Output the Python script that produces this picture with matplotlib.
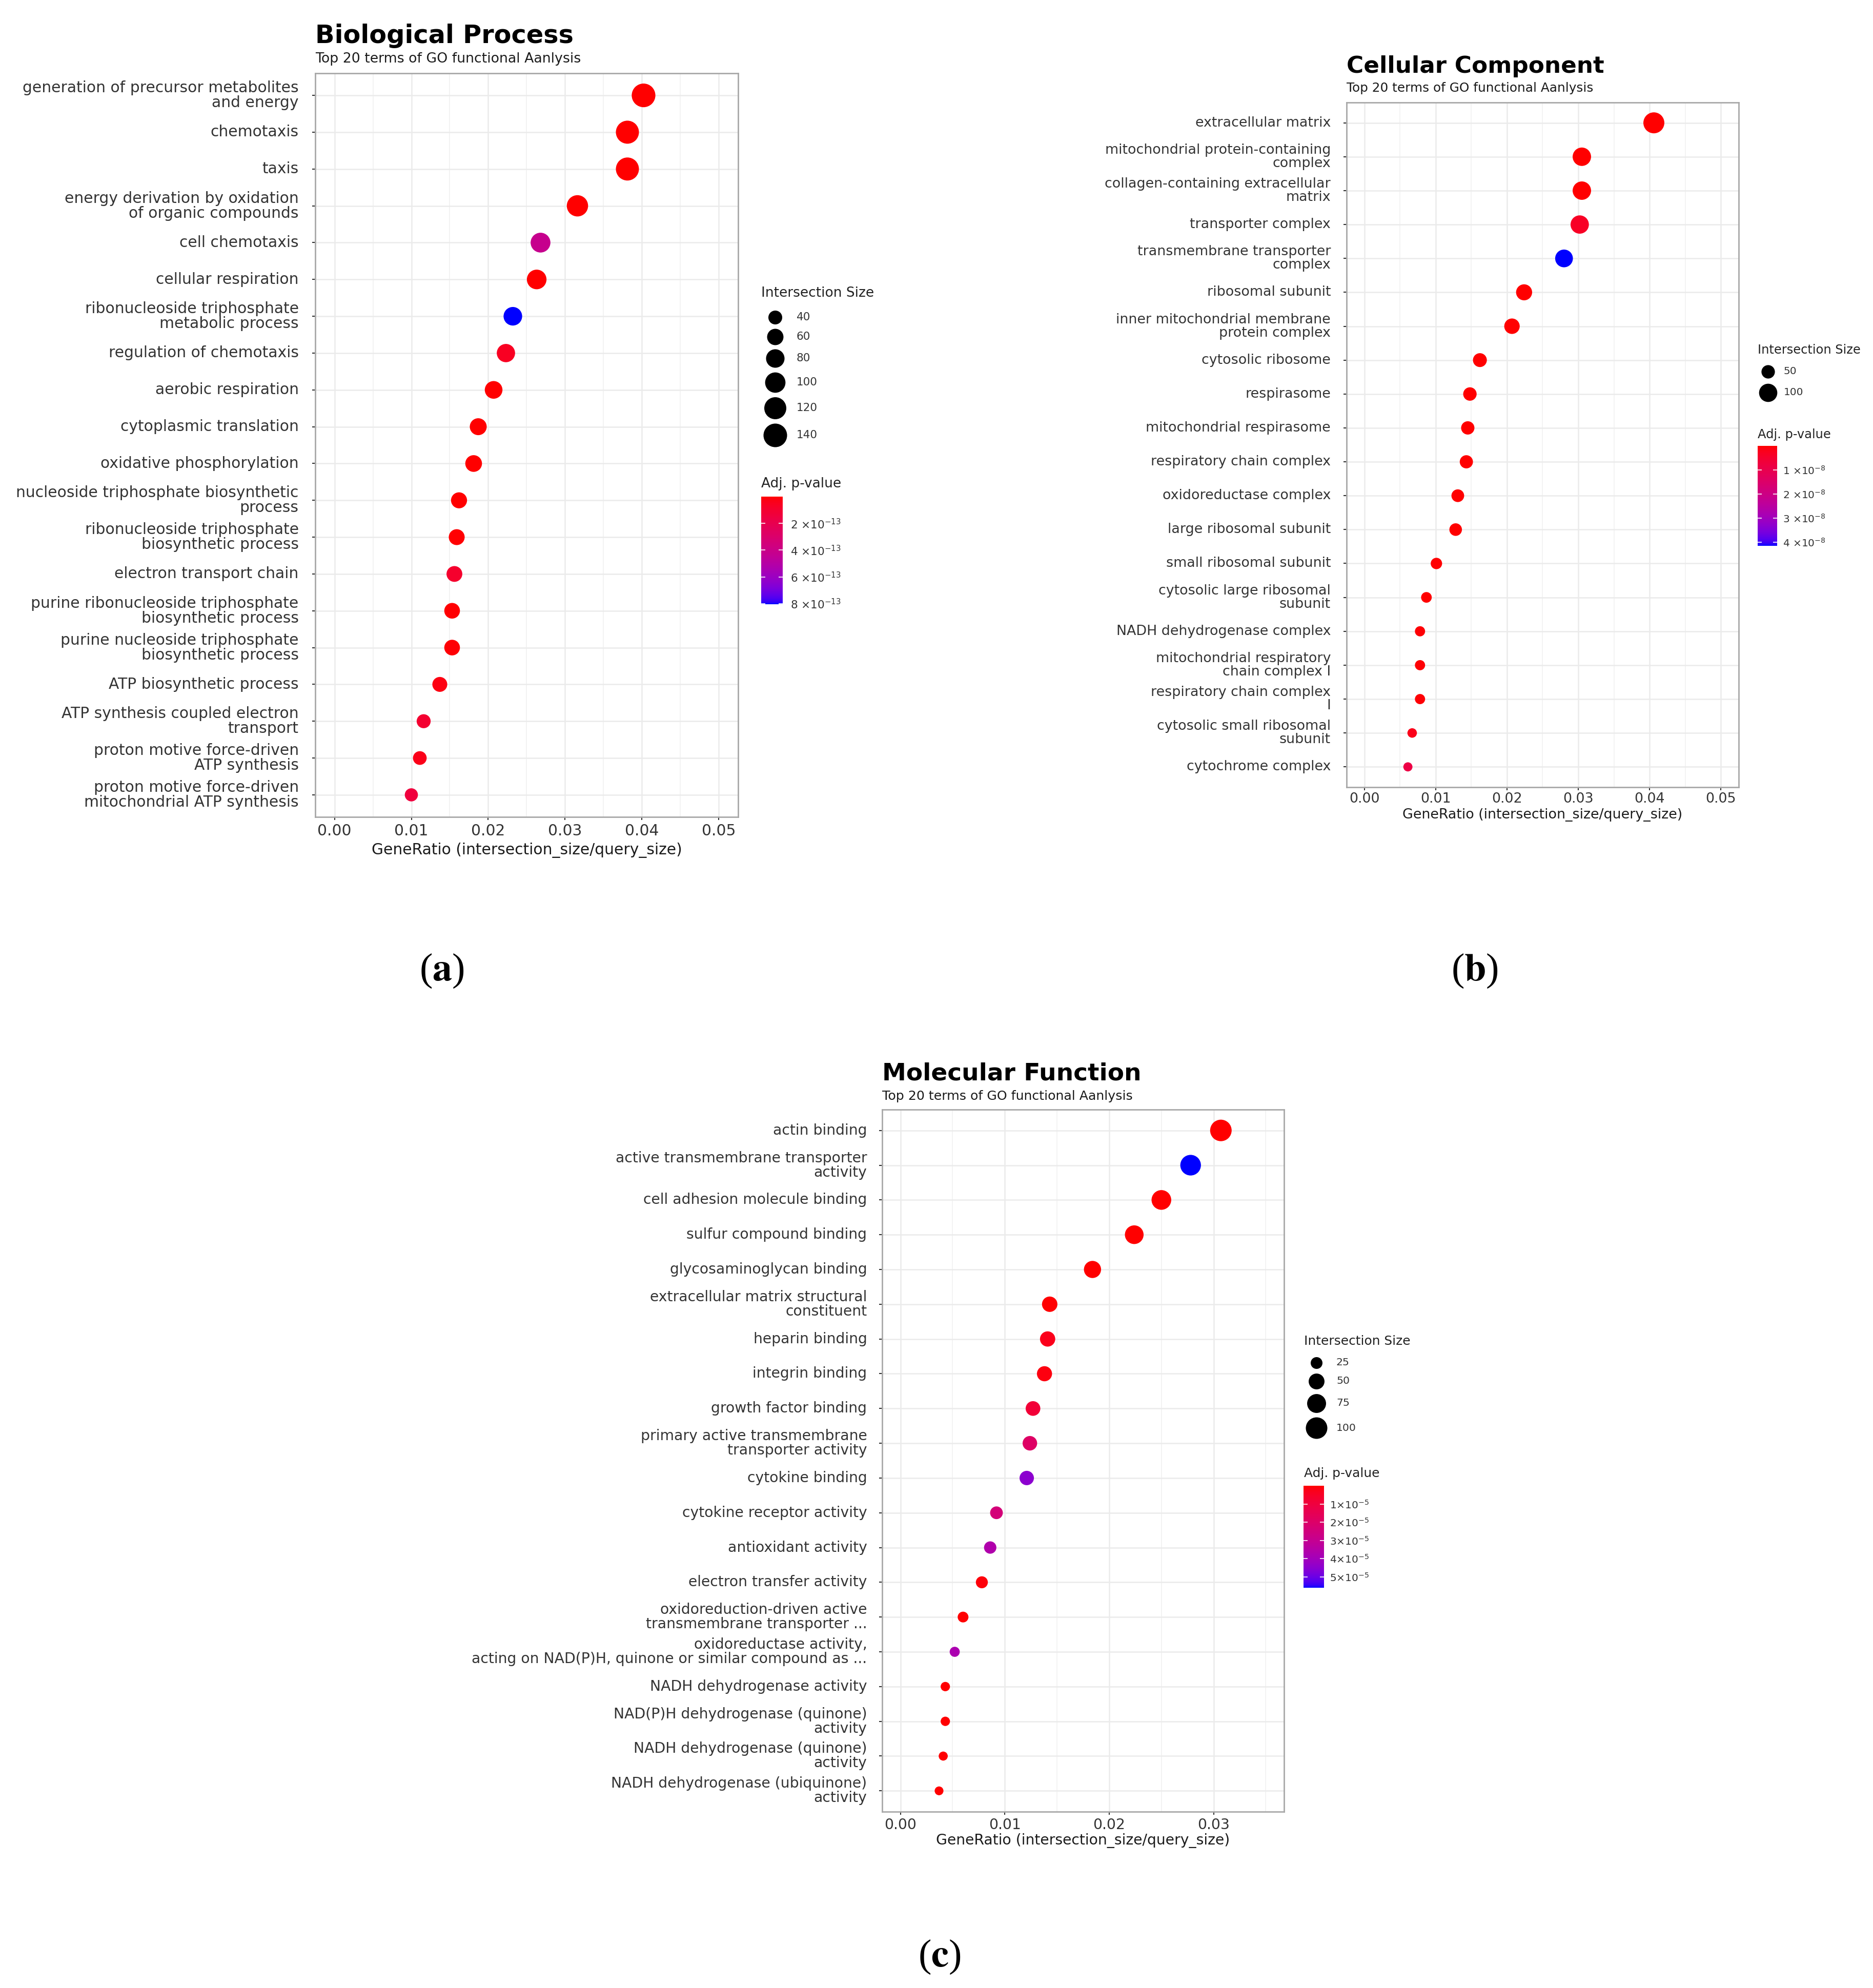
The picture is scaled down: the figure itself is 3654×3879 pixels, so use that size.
import numpy as np
import matplotlib
matplotlib.use("Agg")
import matplotlib.pyplot as plt
from matplotlib.colors import ListedColormap, Normalize
from matplotlib.cm import ScalarMappable

plt.rcParams['font.family'] = ['DejaVu Sans']
plt.rcParams['mathtext.fontset'] = 'dejavusans'

# ======================= DATA =======================
bp_terms = [
    "generation of precursor metabolites\nand energy",
    "chemotaxis",
    "taxis",
    "energy derivation by oxidation\nof organic compounds",
    "cell chemotaxis",
    "cellular respiration",
    "ribonucleoside triphosphate\nmetabolic process",
    "regulation of chemotaxis",
    "aerobic respiration",
    "cytoplasmic translation",
    "oxidative phosphorylation",
    "nucleoside triphosphate biosynthetic\nprocess",
    "ribonucleoside triphosphate\nbiosynthetic process",
    "electron transport chain",
    "purine ribonucleoside triphosphate\nbiosynthetic process",
    "purine nucleoside triphosphate\nbiosynthetic process",
    "ATP biosynthetic process",
    "ATP synthesis coupled electron\ntransport",
    "proton motive force-driven\nATP synthesis",
    "proton motive force-driven\nmitochondrial ATP synthesis",
]
bp_ratio = [0.0402, 0.0381, 0.0381, 0.0316, 0.0268, 0.0263, 0.0232, 0.0223, 0.0207, 0.0187,
            0.0181, 0.0162, 0.0159, 0.0156, 0.0153, 0.0153, 0.0137, 0.0116, 0.0111, 0.0100]
bp_size = [141, 133, 133, 111, 94, 92, 81, 78, 72, 65, 63, 57, 56, 55, 54, 54, 48, 41, 39, 35]
bp_padj = [1.2e-30, 3.5e-22, 6.1e-22, 2.0e-24, 4.2e-13, 4.0e-18, 8.05e-13, 0.6e-13, 5.0e-16, 2.3e-17,
           1.1e-15, 3.0e-15, 4.4e-15, 0.9e-13, 6.0e-15, 7.0e-15, 2.5e-14, 1.0e-13, 0.4e-13, 1.4e-13]
bp_size_breaks = [40, 60, 80, 100, 120, 140]
bp_p_ticks = [2e-13, 4e-13, 6e-13, 8e-13]
bp_p_labels = ["2 \u00d710$^{-13}$", "4 \u00d710$^{-13}$", "6 \u00d710$^{-13}$", "8 \u00d710$^{-13}$"]
bp_xticks = [0.00, 0.01, 0.02, 0.03, 0.04, 0.05]

cc_terms = [
    "extracellular matrix",
    "mitochondrial protein-containing\ncomplex",
    "collagen-containing extracellular\nmatrix",
    "transporter complex",
    "transmembrane transporter\ncomplex",
    "ribosomal subunit",
    "inner mitochondrial membrane\nprotein complex",
    "cytosolic ribosome",
    "respirasome",
    "mitochondrial respirasome",
    "respiratory chain complex",
    "oxidoreductase complex",
    "large ribosomal subunit",
    "small ribosomal subunit",
    "cytosolic large ribosomal\nsubunit",
    "NADH dehydrogenase complex",
    "mitochondrial respiratory\nchain complex I",
    "respiratory chain complex\nI",
    "cytosolic small ribosomal\nsubunit",
    "cytochrome complex",
]
cc_ratio = [0.0406, 0.0305, 0.0305, 0.0302, 0.0280, 0.0224, 0.0207, 0.0162, 0.0148, 0.0145,
            0.0143, 0.0131, 0.0128, 0.0101, 0.0087, 0.0078, 0.0078, 0.0078, 0.0067, 0.0061]
cc_size = [136, 102, 102, 101, 94, 75, 69, 54, 50, 49, 48, 44, 43, 34, 29, 26, 26, 26, 22, 20]
cc_padj = [2.1e-20, 5.3e-16, 1.5e-15, 0.35e-8, 4.15e-8, 3.0e-14, 1.2e-12, 8.0e-15, 2.0e-11, 3.1e-11,
           4.5e-11, 1.1e-10, 6.0e-12, 2.2e-10, 9.0e-11, 3.5e-10, 3.5e-10, 3.5e-10, 0.2e-8, 0.85e-8]
cc_size_breaks = [50, 100]
cc_p_ticks = [1e-8, 2e-8, 3e-8, 4e-8]
cc_p_labels = ["1 \u00d710$^{-8}$", "2 \u00d710$^{-8}$", "3 \u00d710$^{-8}$", "4 \u00d710$^{-8}$"]
cc_xticks = [0.00, 0.01, 0.02, 0.03, 0.04, 0.05]

mf_terms = [
    "actin binding",
    "active transmembrane transporter\nactivity",
    "cell adhesion molecule binding",
    "sulfur compound binding",
    "glycosaminoglycan binding",
    "extracellular matrix structural\nconstituent",
    "heparin binding",
    "integrin binding",
    "growth factor binding",
    "primary active transmembrane\ntransporter activity",
    "cytokine binding",
    "cytokine receptor activity",
    "antioxidant activity",
    "electron transfer activity",
    "oxidoreduction-driven active\ntransmembrane transporter ...",
    "oxidoreductase activity,\nacting on NAD(P)H, quinone or similar compound as ...",
    "NADH dehydrogenase activity",
    "NAD(P)H dehydrogenase (quinone)\nactivity",
    "NADH dehydrogenase (quinone)\nactivity",
    "NADH dehydrogenase (ubiquinone)\nactivity",
]
mf_ratio = [0.0307, 0.0278, 0.0250, 0.0224, 0.0184, 0.0143, 0.0141, 0.0138, 0.0127, 0.0124,
            0.0121, 0.0092, 0.0086, 0.0078, 0.0060, 0.0052, 0.0043, 0.0043, 0.0041, 0.0037]
mf_size = [100, 91, 82, 73, 60, 47, 46, 45, 42, 41, 40, 30, 28, 26, 20, 17, 14, 14, 13, 12]
mf_padj = [1.5e-12, 5.6e-5, 3.0e-10, 8.0e-9, 1.2e-7, 4.0e-7, 3.0e-6, 1.5e-6, 8.5e-6, 1.9e-5,
           4.5e-5, 2.4e-5, 3.65e-5, 1.0e-6, 2.5e-7, 3.75e-5, 4.0e-7, 4.0e-7, 3.0e-7, 2.0e-7]
mf_size_breaks = [25, 50, 75, 100]
mf_p_ticks = [1e-5, 2e-5, 3e-5, 4e-5, 5e-5]
mf_p_labels = ["1\u00d710$^{-5}$", "2\u00d710$^{-5}$", "3\u00d710$^{-5}$",
               "4\u00d710$^{-5}$", "5\u00d710$^{-5}$"]
mf_xticks = [0.00, 0.01, 0.02, 0.03]

subtitle_text = "Top 20 terms of GO functional Aanlysis"
xlabel_text = "GeneRatio (intersection_size/query_size)"

# ======================= COLOUR SCALE (red -> blue in CIELAB) =======================
_WHITE = np.array([0.95047, 1.0, 1.08883])
_M = np.array([[0.4124564, 0.3575761, 0.1804375],
               [0.2126729, 0.7151522, 0.0721750],
               [0.0193339, 0.1191920, 0.9503041]])


def srgb_to_lab(c):
    c = np.asarray(c, float)
    lin = np.where(c <= 0.04045, c / 12.92, ((c + 0.055) / 1.055) ** 2.4)
    xyz = _M @ lin / _WHITE
    f = np.where(xyz > 216 / 24389, np.cbrt(xyz), (24389 / 27 * xyz + 16) / 116)
    return np.array([116 * f[1] - 16, 500 * (f[0] - f[1]), 200 * (f[1] - f[2])])


def lab_to_srgb(lab):
    L, a, b = lab
    fy = (L + 16) / 116
    f = np.array([fy + a / 500, fy, fy - b / 200])
    xyz = np.where(f ** 3 > 216 / 24389, f ** 3, (116 * f - 16) / (24389 / 27)) * _WHITE
    lin = np.clip(np.linalg.solve(_M, xyz), 0, 1)
    c = np.where(lin <= 0.0031308, 12.92 * lin, 1.055 * lin ** (1 / 2.4) - 0.055)
    return np.clip(c, 0, 1)


_lr, _lb = srgb_to_lab([1, 0, 0]), srgb_to_lab([0, 0, 1])
cmap = ListedColormap([lab_to_srgb(_lr + (_lb - _lr) * t) for t in np.linspace(0, 1, 256)])

# ======================= FIGURE =======================
W, H = 3655, 3879
fig = plt.figure(figsize=(W / 100, H / 100), dpi=100)
fig.patch.set_facecolor('white')


def px_box(x0, y0, x1, y1):
    return [x0 / W, 1 - y1 / H, (x1 - x0) / W, (y1 - y0) / H]


def fxy(x, y):
    return x / W, 1 - y / H


overlay = None


def draw_panel(terms, ratio, size, padj, xticks, breaks, pticks, plabels, title, st):
    ax = fig.add_axes(px_box(*st['axes']))
    n = len(terms)
    ypos = np.arange(n)
    dia = st['e'] + st['k'] * np.sqrt(np.asarray(size, float))
    norm = Normalize(min(padj), max(padj))
    ax.scatter(ratio, ypos, s=(dia * 0.72) ** 2, c=padj, cmap=cmap, norm=norm,
               linewidths=0, zorder=3)
    xmax = xticks[-1] if st.get('xmax') is None else st['xmax']
    pad = 0.05 * xmax
    ax.set_xlim(-pad, xmax + pad)
    ax.set_ylim(n - 1 + 0.6, -0.6)
    step = xticks[1] - xticks[0]
    ax.set_xticks(xticks)
    ax.set_xticklabels([f"{v:.2f}" for v in xticks])
    ax.set_xticks(np.arange(xticks[0] + step / 2, xmax + pad, step), minor=True)
    ax.set_yticks(ypos)
    ax.set_yticklabels(terms)
    ax.set_axisbelow(True)
    ax.grid(which='major', axis='both', color='#EBEBEB', lw=1.8)
    ax.grid(which='minor', axis='x', color='#F2F2F2', lw=1.3)
    ax.tick_params(which='minor', length=0)
    ax.tick_params(which='major', length=4.3, width=1.5, color='#333333', labelcolor='#333333')
    ax.tick_params(axis='y', labelsize=st['fs'], pad=st['ypad'])
    ax.tick_params(axis='x', labelsize=st['fs'], pad=st['xpad'])
    for lbl in ax.get_yticklabels():
        lbl.set_linespacing(st['ls'])
        lbl.set_verticalalignment('center')
    for sp in ax.spines.values():
        sp.set_color('#A8A8A8')
        sp.set_linewidth(2.0)

    x0, y0, x1, y1 = st['axes']
    fig.text(*fxy(x0, st['title_y']), title, fontsize=st['tfs'], weight='bold',
             color='black', ha='left', va='baseline')
    fig.text(*fxy(x0, st['sub_y']), subtitle_text, fontsize=st['sfs'],
             color='#1a1a1a', ha='left', va='baseline')
    fig.text(*fxy((x0 + x1) / 2, st['xlab_y']), xlabel_text, fontsize=st['fs'],
             color='#1a1a1a', ha='center', va='center')

    # size legend
    lx, ly = st['leg']
    overlay.text(lx, ly, "Intersection Size", fontsize=st['lfs'], color='#222222',
                 ha='left', va='center')
    bd = st['e'] + st['k'] * np.sqrt(np.asarray(breaks, float))
    yy = st['leg_row0']
    prev = None
    for b, d in zip(breaks, bd):
        if prev is not None:
            yy = yy + (prev + d) / 2 + st['leg_gap']
        overlay.scatter([st['leg_cx']], [yy], s=(d * 0.72) ** 2, color='black', linewidths=0)
        overlay.text(st['leg_tx'], yy, str(b), fontsize=st['lbfs'], color='#333333',
                     ha='left', va='center')
        prev = d

    # colour bar
    overlay.text(lx, st['p_title_y'], "Adj. p-value", fontsize=st['lfs'], color='#222222',
                 ha='left', va='center')
    cax = fig.add_axes(px_box(*st['cbar']))
    cb = fig.colorbar(ScalarMappable(norm=norm, cmap=cmap), cax=cax)
    cb.outline.set_visible(False)
    cax.invert_yaxis()
    cb.set_ticks(pticks)
    cb.set_ticklabels(plabels)
    cax.yaxis.set_ticks_position('both')
    cax.tick_params(axis='y', which='major', direction='in', length=st['cbtick'], width=1.2,
                    color='white', labelsize=st['cbfs'], labelcolor='#333333', pad=st['cbpad'],
                    left=True, right=True, labelleft=False, labelright=True)
    cax.tick_params(which='minor', length=0)
    return ax


overlay = fig.add_axes([0, 0, 1, 1])
overlay.set_xlim(0, W)
overlay.set_ylim(H, 0)
overlay.axis('off')
overlay.set_zorder(5)

bp_style = dict(axes=(615, 143, 1440, 1594), e=5.2, k=3.45, fs=21.4, ypad=19, xpad=5, ls=1.0,
                tfs=35.6, sfs=19.3, title_y=84, sub_y=122, xlab_y=1659,
                leg=(1485, 572), leg_cx=1512, leg_tx=1554, leg_row0=619, leg_gap=8.5,
                lfs=19, lbfs=15.5, p_title_y=944, cbar=(1485, 969, 1527, 1179),
                cbtick=6, cbfs=15.5, cbpad=11)
cc_style = dict(axes=(2627, 200, 3392, 1536), e=3.5, k=3.21, fs=19.4, ypad=18, xpad=3, ls=1.0,
                tfs=32.6, sfs=17.8, title_y=142, sub_y=179, xlab_y=1590,
                leg=(3429, 683), leg_cx=3449, leg_tx=3480, leg_row0=725, leg_gap=10,
                lfs=17.4, lbfs=14.4, p_title_y=848, cbar=(3429, 870, 3467, 1065),
                cbtick=5.5, cbfs=14.5, cbpad=8)
mf_style = dict(axes=(1721, 2165, 2505, 3535), e=4.0, k=3.8, fs=20.3, ypad=17, xpad=4, ls=1.0,
                tfs=33.8, sfs=18.2, title_y=2108, sub_y=2146, xlab_y=3591, xmax=0.035,
                leg=(2544, 2617), leg_cx=2568, leg_tx=2607, leg_row0=2659, leg_gap=9,
                lfs=17.9, lbfs=14.7, p_title_y=2875, cbar=(2543, 2899, 2583, 3098),
                cbtick=6, cbfs=14.5, cbpad=8)

draw_panel(bp_terms, bp_ratio, bp_size, bp_padj, bp_xticks, bp_size_breaks, bp_p_ticks,
           bp_p_labels, "Biological Process", bp_style)
draw_panel(cc_terms, cc_ratio, cc_size, cc_padj, cc_xticks, cc_size_breaks, cc_p_ticks,
           cc_p_labels, "Cellular Component", cc_style)
draw_panel(mf_terms, mf_ratio, mf_size, mf_padj, mf_xticks, mf_size_breaks, mf_p_ticks,
           mf_p_labels, "Molecular Function", mf_style)

for lab, (x, y) in zip(["a", "b", "c"], [(862, 1894), (2877, 1894), (1833, 3818)]):
    fig.text(*fxy(x, y), r"($\mathbf{" + lab + r"}$)", family='Liberation Serif',
             math_fontfamily='stix', fontsize=55, ha='center', va='center', color='black')

fig.savefig("out.png", dpi=100, facecolor='white')
